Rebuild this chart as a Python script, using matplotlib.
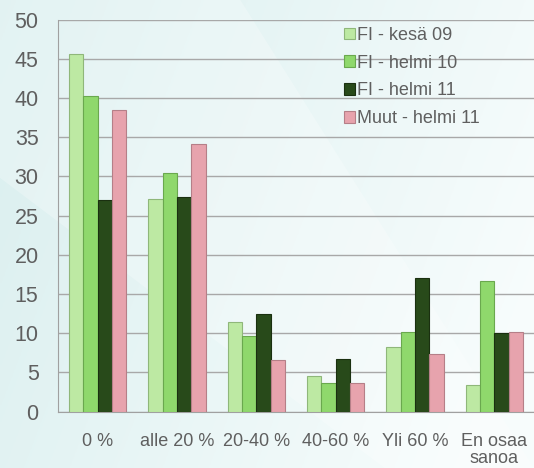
import numpy as np
import matplotlib.pyplot as plt
from matplotlib.patches import Polygon

categories = ['0 %', 'alle 20 %', '20-40 %', '40-60 %', 'Yli 60 %', 'En osaa\nsanoa']
series_names = ['FI - kesä 09', 'FI - helmi 10', 'FI - helmi 11', 'Muut - helmi 11']
fi_kesa09 = [45.6, 27.1, 11.4, 4.6, 8.2, 3.4]
fi_helmi10 = [40.3, 30.4, 9.6, 3.6, 10.1, 16.6]
fi_helmi11 = [27.0, 27.4, 12.5, 6.7, 17.1, 10.0]
muut_helmi11 = [38.4, 34.1, 6.6, 3.7, 7.3, 10.1]
yticks = [0, 5, 10, 15, 20, 25, 30, 35, 40, 45, 50]

colors = ['#bde9a3', '#8fd86c', '#284a1a', '#e7a3ad']
edges = ['#8fb77a', '#6aa84e', '#1a3010', '#b57f88']

plt.rcParams['font.family'] = ['Liberation Sans', 'DejaVu Sans']
txt = '#5f5f5f'

fig = plt.figure(figsize=(5.34, 4.68), dpi=100)

# background: soft teal gradient with a lighter diagonal band
bg = fig.add_axes([0, 0, 1, 1], zorder=-10)
gx = np.linspace(0, 1, 200)
gy = np.linspace(0, 1, 200)
X, Y = np.meshgrid(gx, gy)
grad = np.clip(0.35 + 0.75 * X - 0.25 * Y, 0, 1)
c0 = np.array([0.84, 0.93, 0.93])
c1 = np.array([0.97, 0.99, 0.99])
img = c0[None, None, :] * (1 - grad[..., None]) + c1[None, None, :] * grad[..., None]
bg.imshow(img, extent=[0, 1, 0, 1], origin='lower', aspect='auto')
bg.add_patch(Polygon([[0.0, 0.62], [0.0, 1.0], [0.45, 1.0], [1.0, 0.0], [0.72, 0.0]],
                     closed=True, facecolor='white', alpha=0.25, edgecolor='none'))
bg.set_xlim(0, 1)
bg.set_ylim(0, 1)
bg.axis('off')

ax = fig.add_axes([58 / 534, 1 - 411.7 / 468, 476 / 534, (411.7 - 19.5) / 468])
ax.patch.set_alpha(0)

x = np.arange(len(categories))
w = 0.18
data = [fi_kesa09, fi_helmi10, fi_helmi11, muut_helmi11]
for i, vals in enumerate(data):
    ax.bar(x + (i - 1.5) * w, vals, w, color=colors[i], edgecolor=edges[i],
           linewidth=0.8, label=series_names[i], zorder=3)

ax.set_xlim(-0.5, len(categories) - 0.5)
ax.set_ylim(0, 50)
ax.set_yticks(yticks)
ax.set_xticks(x)
ax.set_xticklabels(categories, fontsize=13, color=txt, linespacing=1.05)
ax.tick_params(axis='y', labelsize=15.5, labelcolor=txt, length=0, pad=14)
ax.tick_params(axis='x', length=0, pad=15)
ax.grid(axis='y', color='#a8a8a8', linewidth=1, zorder=0)
for s in ['top', 'right']:
    ax.spines[s].set_visible(False)
for s in ['left', 'bottom']:
    ax.spines[s].set_color('#a0a0a0')

leg = ax.legend(loc='upper left', bbox_to_anchor=(0.585, 1.0), frameon=False,
                fontsize=13, handlelength=0.6, handleheight=0.6,
                handletextpad=0.15, labelspacing=0.6, borderaxespad=0)
for t in leg.get_texts():
    t.set_color(txt)

fig.savefig('out.png', dpi=100)
